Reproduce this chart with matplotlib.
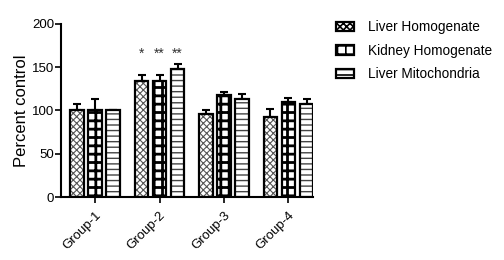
"""Percent control by group for three preparations"""
import numpy as np
import matplotlib.pyplot as plt
from matplotlib.colors import to_rgba
from matplotlib.patches import Patch

groups = ["Group-1", "Group-2", "Group-3", "Group-4"]
series = ["Liver Homogenate", "Kidney Homogenate", "Liver Mitochondria"]
liver_hom = [100, 134, 96, 93]
kidney_hom = [100, 134, 118, 110]
liver_mito = [100, 148, 113, 107]
liver_hom_err = [8, 7, 5, 9]
kidney_hom_err = [13, 7, 3, 4]
liver_mito_err = [1, 6, 6, 6]
stars = ["*", "**", "**"]  # over Group-2

if __name__ == "__main__":
    plt.rcParams["font.family"] = ["Liberation Sans", "DejaVu Sans"]
    plt.rcParams["hatch.linewidth"] = 1.2

    values = [liver_hom, kidney_hom, liver_mito]
    errors = [liver_hom_err, kidney_hom_err, liver_mito_err]
    hatches = ["xxxxx", "++", "---"]
    hatch_colors = ["#555555", "black", "#444444"]
    hatch_widths = [0.8, 2.0, 1.0]

    fig = plt.figure(figsize=(5.04, 2.60), dpi=100)
    ax = fig.add_axes([0.121, 0.242, 0.500, 0.666])

    x = np.arange(len(groups))
    width = 0.21
    step = 0.28
    for i, (vals, errs) in enumerate(zip(values, errors)):
        pos = x + (i - 1) * step
        ax.errorbar(pos, vals, yerr=[np.zeros(len(errs)), errs], fmt="none",
                    ecolor="black", elinewidth=1.5, capsize=3, capthick=1.5,
                    zorder=1)
        bars = ax.bar(pos, vals, width, facecolor="white", edgecolor="black",
                      linewidth=1.6, zorder=2)
        for b in bars:
            b.set_hatch(hatches[i])
            b._hatch_color = to_rgba(hatch_colors[i])
            if hasattr(b, "_hatch_linewidth"):
                b._hatch_linewidth = hatch_widths[i]

        ax.text(1 + (i - 1) * step, 157, stars[i], ha="center", va="bottom",
                fontsize=10, color="#333333")

    ax.set_xlim(-0.53, 3.38)
    ax.set_ylim(0, 200)
    ax.set_yticks([0, 50, 100, 150, 200])
    ax.set_xticks(x)
    ax.set_xticklabels(groups, rotation=45, ha="right", rotation_mode="anchor",
                       fontsize=9.5)
    ax.tick_params(axis="y", labelsize=9.5, width=1.2, length=4, pad=1)
    ax.tick_params(axis="x", width=1.2, length=4, pad=5)
    ax.set_ylabel("Percent control", fontsize=12, labelpad=2)
    for side in ["top", "right"]:
        ax.spines[side].set_visible(False)
    for side in ["left", "bottom"]:
        ax.spines[side].set_linewidth(1.5)

    handles = []
    for i, name in enumerate(series):
        p = Patch(facecolor="white", edgecolor="black", linewidth=1.6,
                  hatch=hatches[i], label=name)
        handles.append(p)
    fig.legend(handles=handles, loc="upper left", bbox_to_anchor=(0.643, 0.97),
               frameon=False, fontsize=9.8, labelspacing=0.7, handlelength=1.3,
               handleheight=0.7, handletextpad=1.0)

    fig.savefig("out.png", dpi=100)
